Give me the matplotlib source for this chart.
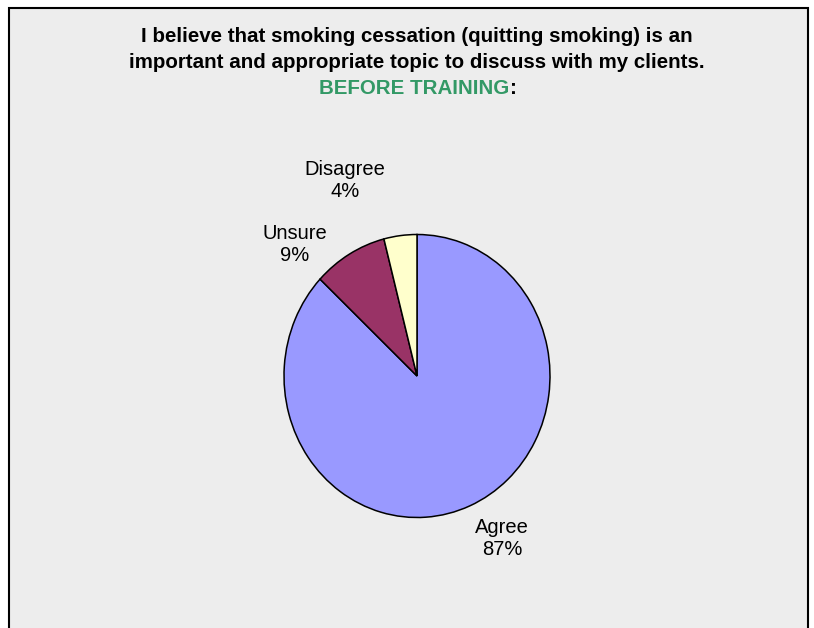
import matplotlib
matplotlib.use("Agg")
import matplotlib.pyplot as plt
from matplotlib.patches import Rectangle

# data
labels = ["Agree", "Unsure", "Disagree"]
shares = [87, 9, 4]
colors = ["#9999FF", "#993366", "#FFFFCC"]
title_lines = ["I believe that smoking cessation (quitting smoking) is an",
               "important and appropriate topic to discuss with my clients."]
subtitle = "BEFORE TRAINING"

plt.rcParams["font.family"] = ["Liberation Sans", "DejaVu Sans"]

W, H = 814, 628
fig = plt.figure(figsize=(W / 100, H / 100), dpi=100)
fig.patch.set_facecolor("white")

# grey chart area with a black frame
fig.add_artist(Rectangle((9 / W, -0.05), (808 - 9) / W, (H - 8) / H + 0.05,
                         transform=fig.transFigure, facecolor="#EDEDED",
                         edgecolor="black", lw=1.5, zorder=-1))

# title
tsize = 14.8
fig.text(417 / W, 1 - 37 / H, title_lines[0], ha="center", va="center",
         fontsize=tsize, fontweight="bold")
fig.text(417 / W, 1 - 62 / H, title_lines[1], ha="center", va="center",
         fontsize=tsize, fontweight="bold")
sub = fig.text(414 / W, 1 - 88 / H, subtitle, ha="center", va="center",
               fontsize=tsize, fontweight="bold", color="#339966")
fig.add_artist(plt.Annotation(":", xy=(1, 0), xycoords=sub,
                              xytext=(0.5, 0), textcoords="offset points",
                              fontsize=tsize, fontweight="bold",
                              color="black", ha="left", va="bottom"))

# pie, slightly taller than wide as in the original
cx, cy, rx, ry = 417, 376, 133, 141.5
ax = fig.add_axes([(cx - rx) / W, 1 - (cy + ry) / H, 2 * rx / W, 2 * ry / H])
ax.pie(shares, colors=colors, startangle=90, counterclock=False,
       wedgeprops=dict(edgecolor="black", linewidth=1.1))
ax.set_aspect("auto")
ax.set_xlim(-1, 1)
ax.set_ylim(-1, 1)
ax.axis("off")

label_pos = {"Agree": (0.64, -1.15), "Unsure": (-0.92, 0.93), "Disagree": (-0.54, 1.38)}
for lab, val in zip(labels, shares):
    x, y = label_pos[lab]
    ax.text(x, y, f"{lab}\n{val}%", ha="center", va="center", fontsize=14.5,
            linespacing=1.2, clip_on=False)

fig.savefig("out.png", dpi=100, facecolor="white")
